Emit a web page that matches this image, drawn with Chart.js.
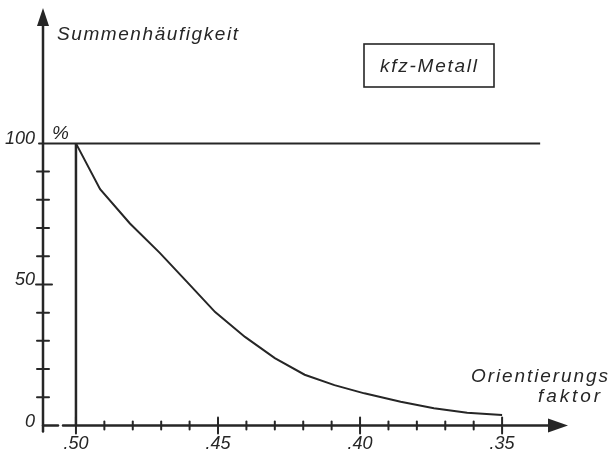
<!DOCTYPE html>
<html>
<head>
<meta charset="utf-8">
<script src="https://cdn.jsdelivr.net/npm/chart.js@4"></script>
<style>
html, body { margin: 0; padding: 0; background: #fff; }
canvas { display: block; }
</style>
</head>
<body>
<canvas id="chart" width="611" height="458"></canvas>
<script>
// Orientierungsfaktor (x) and Summenhäufigkeit in % (y)
const faktor = [0.500, 0.4915, 0.481, 0.4705, 0.461, 0.451, 0.4405, 0.430, 0.4195, 0.409, 0.3985, 0.3857, 0.374, 0.3623, 0.350];
const summe  = [100, 83.8, 71.6, 61.2, 51.0, 40.2, 31.4, 23.9, 18.0, 14.3, 11.4, 8.4, 6.1, 4.5, 3.7];

// tick labels
const xTicks = [0.50, 0.45, 0.40, 0.35];
const xTickLabels = ['.50', '.45', '.40', '.35'];
const xMinor = [0.49, 0.48, 0.47, 0.46, 0.44, 0.43, 0.42, 0.41, 0.39, 0.38, 0.37, 0.36];
const yTicks = [0, 50, 100];
const yTickLabels = ['0', '50', '100'];
const yMinor = [10, 20, 30, 40, 60, 70, 80, 90];

// axis ranges (x runs from .50 down to .35)
const xMin = 0.3268, xMax = 0.5116, yMax = 148;
const hundredEnd = 0.3366;

const ink = '#262626';
const font = '"Liberation Sans", Arial, sans-serif';

// draw text stretched to a given width via letter spacing
function spaced(ctx, text, x, y, w) {
  ctx.letterSpacing = '0px';
  const m = ctx.measureText(text).width;
  ctx.letterSpacing = ((w - m) / (text.length - 1)) + 'px';
  ctx.fillText(text, x, y);
  ctx.letterSpacing = '0px';
}

function line(ctx, x1, y1, x2, y2) {
  ctx.beginPath();
  ctx.moveTo(x1, y1);
  ctx.lineTo(x2, y2);
  ctx.stroke();
}

const axesPlugin = {
  id: 'handAxes',
  afterDatasetsDraw(chart) {
    const ctx = chart.ctx;
    const xs = chart.scales.x, ys = chart.scales.y;
    const a = chart.chartArea;
    const y0 = ys.getPixelForValue(0);
    const xl = a.left;

    ctx.save();
    ctx.strokeStyle = ink;
    ctx.fillStyle = ink;
    ctx.lineCap = 'round';

    // y axis with arrow
    ctx.lineWidth = 2.5;
    line(ctx, xl, y0 + 6, xl, a.top + 16);
    ctx.beginPath();
    ctx.moveTo(xl, a.top);
    ctx.lineTo(xl - 6, a.top + 18);
    ctx.lineTo(xl + 6, a.top + 18);
    ctx.closePath();
    ctx.fill();

    // x axis with arrow (small gap after the origin, as drawn)
    line(ctx, xl, y0, xl + 15, y0);
    line(ctx, xl + 20, y0, a.right - 18, y0);
    ctx.beginPath();
    ctx.moveTo(a.right, y0);
    ctx.lineTo(a.right - 20, y0 - 7);
    ctx.lineTo(a.right - 20, y0 + 7);
    ctx.closePath();
    ctx.fill();

    // y ticks
    ctx.lineWidth = 2;
    yMinor.forEach(v => {
      const p = ys.getPixelForValue(v);
      line(ctx, xl - 6, p, xl + 6, p);
    });
    line(ctx, xl - 7, ys.getPixelForValue(50), xl + 9, ys.getPixelForValue(50));
    line(ctx, xl - 4, ys.getPixelForValue(100), xl, ys.getPixelForValue(100));

    // x ticks
    xMinor.forEach(v => {
      const p = xs.getPixelForValue(v);
      line(ctx, p, y0 - 4, p, y0 + 4);
    });
    xTicks.forEach(v => {
      const p = xs.getPixelForValue(v);
      line(ctx, p, y0 - 8, p, y0 + 8);
    });

    // tick labels
    ctx.font = 'italic 18px ' + font;
    ctx.textBaseline = 'middle';
    ctx.textAlign = 'right';
    yTicks.forEach((v, i) => {
      ctx.fillText(yTickLabels[i], xl - 8, ys.getPixelForValue(v) - 4);
    });
    ctx.textAlign = 'center';
    xTicks.forEach((v, i) => {
      ctx.fillText(xTickLabels[i], xs.getPixelForValue(v), y0 + 18);
    });

    // titles
    ctx.font = 'italic 19px ' + font;
    ctx.textAlign = 'left';
    spaced(ctx, 'Summenhäufigkeit', 57, 35, 181);
    spaced(ctx, 'Orientierungs', 471, 377, 137);
    spaced(ctx, 'faktor', 538, 397, 62);
    ctx.fillText('%', 52, 134);

    // boxed legend
    ctx.lineWidth = 1.6;
    ctx.strokeRect(364, 44, 130, 43);
    spaced(ctx, 'kfz-Metall', 380, 67, 97);

    ctx.restore();
  }
};

new Chart(document.getElementById('chart'), {
  type: 'scatter',
  data: {
    datasets: [
      {
        label: 'kfz-Metall',
        data: faktor.map((x, i) => ({ x: x, y: summe[i] })),
        showLine: true,
        borderColor: ink,
        borderWidth: 2,
        pointRadius: 0,
        tension: 0
      },
      {
        label: 'Grenze .50',
        data: [{ x: 0.50, y: 0 }, { x: 0.50, y: 100 }],
        showLine: true,
        borderColor: ink,
        borderWidth: 2.5,
        pointRadius: 0
      },
      {
        label: '100 %',
        data: [{ x: xMax, y: 100 }, { x: hundredEnd, y: 100 }],
        showLine: true,
        borderColor: ink,
        borderWidth: 2,
        pointRadius: 0
      }
    ]
  },
  options: {
    responsive: false,
    animation: false,
    layout: { padding: { left: 43, right: 43, top: 8, bottom: 32.5 } },
    scales: {
      x: { type: 'linear', reverse: true, min: xMin, max: xMax, display: false },
      y: { type: 'linear', min: 0, max: yMax, display: false }
    },
    plugins: {
      legend: { display: false },
      tooltip: { enabled: false }
    }
  },
  plugins: [axesPlugin]
});
</script>
</body>
</html>
